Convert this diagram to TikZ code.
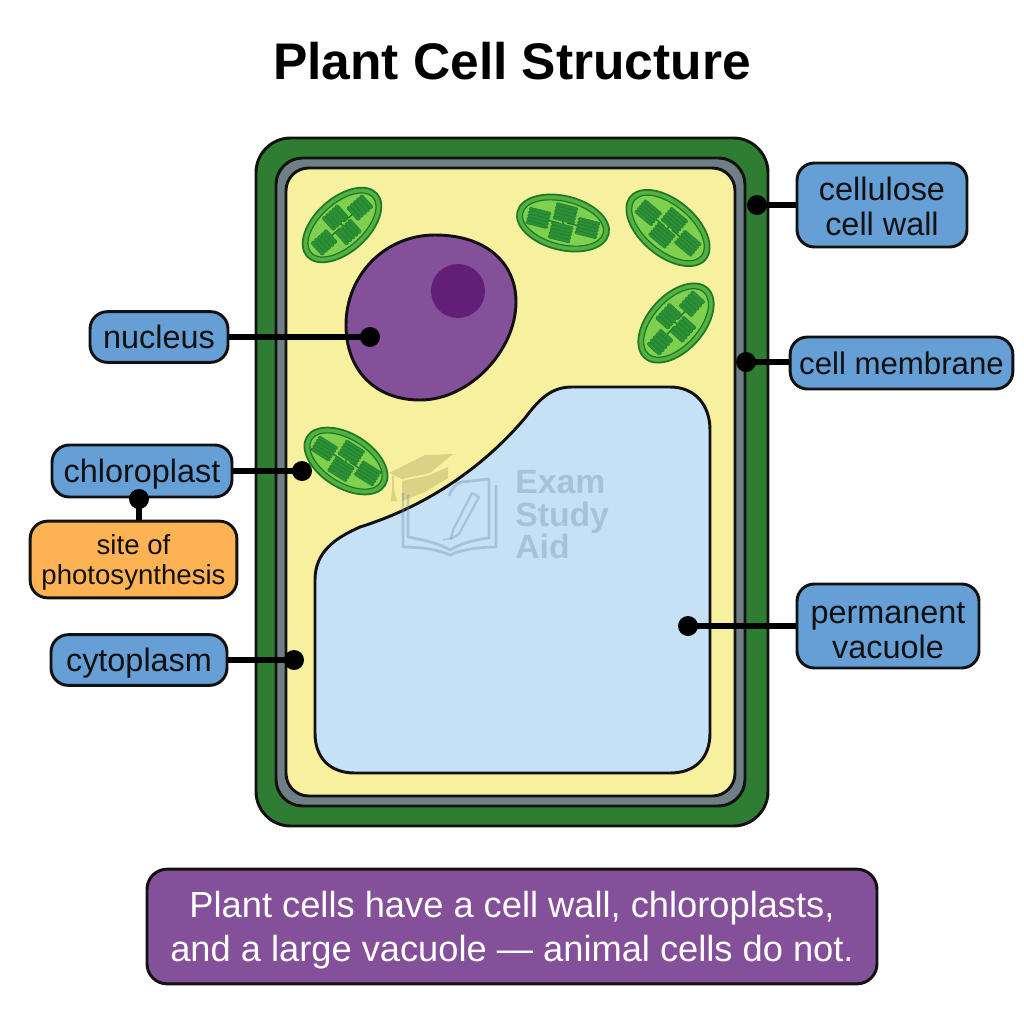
\documentclass[tikz,border=0pt]{standalone}
\usepackage{fontspec}
\setmainfont{Liberation Sans}
\definecolor{wallgreen}{HTML}{2F7D32}
\definecolor{membgrey}{HTML}{6F7F86}
\definecolor{cytoyellow}{HTML}{F7F09E}
\definecolor{nucpurple}{HTML}{84509A}
\definecolor{nucdark}{HTML}{631F78}
\definecolor{vacblue}{HTML}{C6E0F6}
\definecolor{tagblue}{HTML}{659FD6}
\definecolor{tagorange}{HTML}{FDB254}
\definecolor{outgreen}{HTML}{1C7A24}
\definecolor{chlfill}{HTML}{55B043}
\definecolor{chlin}{HTML}{7FD04F}
\definecolor{stackgreen}{HTML}{2B9136}
\definecolor{inkline}{HTML}{111111}
\definecolor{wmcol}{HTML}{6F8DA5}
\definecolor{capcol}{HTML}{A8A05A}
\tikzset{
  x=0.75pt, y=-0.75pt,
  outline/.style={draw=inkline, line width=2.2pt},
  tag/.style={outline, fill=tagblue, rounded corners=13pt, align=center, inner sep=0pt, text=inkline, text depth=0pt, font=\fontsize{24.3}{26}\selectfont},
  notebox/.style={tag, fill=tagorange, font=\fontsize{20.7}{22.5}\selectfont},
  lead/.style={draw=black, line width=4.4pt},
  pin/.style={circle, fill=black, minimum size=15pt, inner sep=0pt},
  watermark/.style={opacity=0.36},
}
% one thylakoid stack: centre u, centre v, bar direction, half bar length, pitch
\newcommand{\granum}[5]{%
  \begin{scope}[shift={(#1,#2)}, rotate=#3]
    \foreach \k in {-2,...,2}
      \fill[stackgreen, draw=stackgreen!85!black, line width=0.35pt, rounded corners=0.8pt]
        (-#4,{\k*#5-#5*0.47}) rectangle (#4,{\k*#5+#5*0.47});
  \end{scope}}
% a chloroplast: centre x, centre y, tilt, half length, half width, bar direction, half bar length, pitch
\newcommand{\chloro}[8]{%
  \begin{scope}[shift={(#1,#2)}, rotate=#3]
    \path[fill=chlfill, draw=outgreen, line width=1.3pt] (0,0) ellipse [x radius=#4, y radius=#5];
    \path[fill=chlin, draw=outgreen, line width=0.9pt] (0,0) ellipse [x radius=#4-5.5, y radius=#5-5.5];
    \draw[outgreen, line width=1pt] (-25,1) -- (-4,1) (-4,-8) -- (4,8) (4,-1) -- (25,-1);
    \granum{-25}{1}{#6}{#7}{#8}
    \granum{0}{-10}{#6}{#7}{#8}
    \granum{0}{9.5}{#6}{#7}{#8}
    \granum{25}{-1}{#6}{#7}{#8}
  \end{scope}}
\begin{document}
\begin{tikzpicture}
\useasboundingbox (0,0) rectangle (1024,1024);
\fill[white] (0,0) rectangle (1024,1024);

\node[font=\fontsize{38.6}{42}\selectfont\bfseries, text=black, text depth=0pt] (title) at (512,61) {Plant Cell Structure};

% cell layers from the wall inwards
\path[outline, fill=wallgreen, rounded corners=26pt] (256,138) rectangle (768,826);
\path[outline, fill=membgrey, rounded corners=20pt] (276,158) rectangle (745,806);
\path[outline, fill=cytoyellow, rounded corners=17pt] (286,168) rectangle (735,796);

% chloroplasts
\chloro{342}{225}{42}{47}{27}{90}{8.5}{4.2}
\chloro{563}{223}{-14}{47}{27}{0}{11}{3.4}
\chloro{668}{228}{-40}{49}{28}{0}{11}{3.4}
\chloro{676}{323}{48}{47}{28}{90}{8.5}{4.2}
\chloro{346}{461}{-32}{46}{27}{0}{11}{3.4}

% nucleus with nucleolus
\path[outline, fill=nucpurple] (346,325)
  .. controls (346,275) and (385,235) .. (435,235)
  .. controls (485,235) and (516,262) .. (516,302)
  .. controls (516,350) and (470,400) .. (420,400)
  .. controls (375,400) and (346,370) .. (346,325) -- cycle;
\fill[nucdark] (458,291) circle [radius=27];

% central vacuole
\path[outline, fill=vacblue] (315,580)
  .. controls (315,552) and (335,538) .. (360,527)
  .. controls (430,505) and (485,465) .. (525,418)
  .. controls (540,398) and (552,387) .. (572,387)
  -- (670,387)
  .. controls (695,387) and (710,405) .. (710,430)
  -- (710,733)
  .. controls (710,758) and (695,773) .. (670,773)
  -- (355,773)
  .. controls (330,773) and (315,758) .. (315,733)
  -- cycle;

% faint study-aid emblem across the cell
\begin{scope}[watermark]
  \fill[capcol] (389,473) -- (425,455) -- (453,454) -- (430,473) -- (402,479) -- cycle;
  \fill[capcol] (402,481) -- (430,475) -- (448,467) -- (448,478) -- (425,492) -- (402,501) -- cycle;
  \fill[capcol] (392,476) -- (394,476) -- (394,490) -- (397,501) -- (391,501) -- (392,490) -- cycle;
  \draw[wmcol, line width=2.1pt, line join=round] (449,496) .. controls (452,488) and (456,483) .. (462,482) -- (489,479) -- (489,538) .. controls (472,540) and (460,544) .. (450,550)
     .. controls (440,544) and (425,540) .. (408,537) -- (408,495);
  \draw[wmcol, line width=2.1pt, line join=round] (403,493) -- (403,547) .. controls (425,547) and (442,551) .. (450,555)
     .. controls (458,551) and (475,547) .. (496,547) -- (496,485);
  \draw[wmcol, line width=1.6pt, line join=round] (453,530) -- (472,493) -- (479,497) -- (459,534) -- (451,539) -- cycle;
  \draw[wmcol, line width=1pt] (443,540) -- (452,538);
  \node[text=wmcol, font=\fontsize{25.3}{24.4}\selectfont\bfseries, align=left, anchor=west, inner sep=0pt] (brand) at (515,515) {Exam\\Study\\Aid};
\end{scope}

% labels
\node[tag, minimum width=127.5pt, minimum height=63pt] (wall) at (882,205) {\rule{0pt}{19.5pt}cellulose\\cell wall};
\node[tag, minimum width=167pt, minimum height=39pt, font=\fontsize{23.4}{26}\selectfont] (memb) at (901.5,363) {cell membrane};
\node[tag, minimum width=136.5pt, minimum height=63pt] (vac) at (888,626) {\rule{0pt}{22pt}permanent\\vacuole};
\node[tag, minimum width=103.5pt, minimum height=38pt] (nuc) at (159,337) {nucleus};
\node[tag, minimum width=135pt, minimum height=39pt] (chl) at (142,471) {chloroplast};
\node[notebox, minimum width=155pt, minimum height=57.5pt] (site) at (133.5,559.5) {site of\\photosynthesis};
\node[tag, minimum width=132pt, minimum height=38pt] (cyt) at (139,660) {cytoplasm};

% leader pins
\node[pin] (pwall) at (757,205) {};
\node[pin] (pmemb) at (746,362) {};
\node[pin] (pvac) at (688,626) {};
\node[pin] (pnuc) at (370,337) {};
\node[pin] (pchl) at (302,471) {};
\node[pin] (psite) at (139,499) {};
\node[pin] (pcyt) at (294,660) {};

\draw[lead] (wall.west) -- (pwall.center);
\draw[lead] (memb.west |- pmemb) -- (pmemb.center);
\draw[lead] (vac.west) -- (pvac.center);
\draw[lead] (nuc.east) -- (pnuc.center);
\draw[lead] (chl.east) -- (pchl.center);
\draw[lead] (site.north -| psite) -- (psite.center);
\draw[lead] (cyt.east) -- (pcyt.center);

% summary strip
\node[tag, fill=nucpurple, rounded corners=15pt, text=white, minimum width=547.5pt, minimum height=86pt, font=\fontsize{27.2}{32.5}\selectfont] (summary) at (512,926.5)
  {Plant cells have a cell wall, chloroplasts,\\and a large vacuole — animal cells do not.};
\end{tikzpicture}
\end{document}
